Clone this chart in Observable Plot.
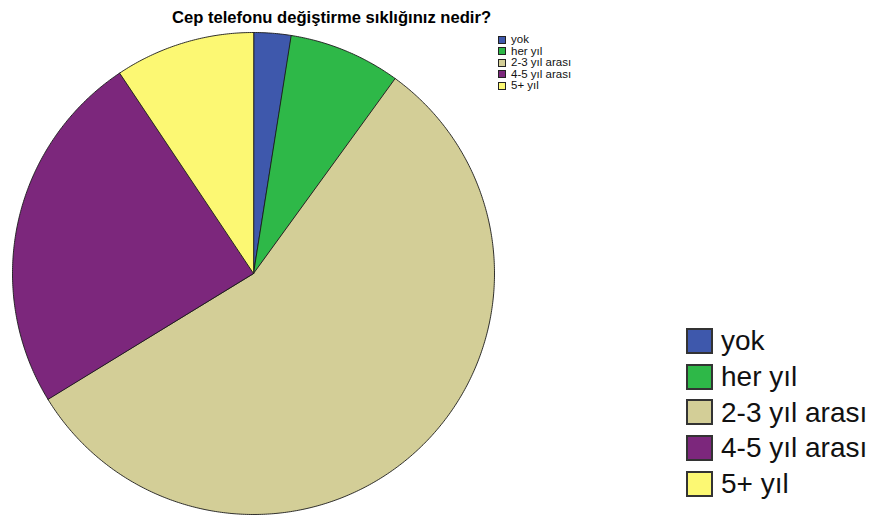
<!DOCTYPE html>
<html>
<head>
<meta charset="utf-8">
<script src="https://cdn.jsdelivr.net/npm/d3@7"></script>
<script src="https://cdn.jsdelivr.net/npm/@observablehq/plot@0.6"></script>
<style>
  body { margin: 0; background: #fff; }
  #wrap { position: relative; width: 877px; height: 516px; font-family: "Liberation Sans", Arial, sans-serif; overflow: hidden; }
  #title { position: absolute; left: 172px; top: 8px; font-size: 16.6px; font-weight: bold; color: #000; white-space: nowrap; }
  .legend { position: absolute; }
  .row { display: flex; align-items: center; white-space: nowrap; }
  .row span { display: block; }
  .small .row { height: 11.5px; font-size: 11.5px; line-height: 11.5px; color: #111; }
  .small .sw { width: 6px; height: 6px; border: 1px solid #222; margin-right: 5px; }
  .big .row { height: 35.7px; font-size: 28px; line-height: 35px; color: #111; }
  .big .sw { width: 23px; height: 22px; border: 2px solid #333; margin-right: 8px; }
</style>
</head>
<body>
<div id="wrap">
  <div id="chart"></div>
  <div id="title">Cep telefonu değiştirme sıklığınız nedir?</div>
  <div class="legend small" id="legSmall" style="left:498px; top:34px;"></div>
  <div class="legend big" id="legBig" style="left:686px; top:323px;"></div>
</div>
<script>
const categories = ["yok", "her yıl", "2-3 yıl arası", "4-5 yıl arası", "5+ yıl"];
const counts = [4, 12, 90, 39, 15];
const colors = ["#3E58AC", "#2EB848", "#D3CE97", "#7C277C", "#FCF873"];

const data = categories.map((c, i) => ({label: c, value: counts[i]}));
const arcs = d3.pie().sort(null).value(d => d.value)(data);

// Build slice outlines (center -> arc -> center) from the pie angles
const pts = [];
for (const a of arcs) {
  const n = Math.max(2, Math.ceil((a.endAngle - a.startAngle) / (Math.PI / 360)));
  pts.push({label: a.data.label, x: 0, y: 0});
  for (let k = 0; k <= n; k++) {
    const t = a.startAngle + (a.endAngle - a.startAngle) * k / n;
    pts.push({label: a.data.label, x: Math.sin(t), y: Math.cos(t)});
  }
}

const chart = Plot.plot({
  width: 877,
  height: 516,
  margin: 0,
  x: {domain: [-1, 1], range: [12, 494], axis: null},
  y: {domain: [-1, 1], range: [514, 32], axis: null},
  color: {domain: categories, range: colors},
  marks: [
    Plot.line(pts, {x: "x", y: "y", z: "label", fill: "label", stroke: "#1a1a1a", strokeWidth: 0.9, curve: "linear-closed", strokeLinejoin: "round"})
  ]
});
document.getElementById("chart").appendChild(chart);

for (const id of ["legSmall", "legBig"]) {
  const el = document.getElementById(id);
  categories.forEach((c, i) => {
    const row = document.createElement("div");
    row.className = "row";
    const sw = document.createElement("div");
    sw.className = "sw";
    sw.style.background = colors[i];
    const tx = document.createElement("span");
    tx.textContent = c;
    row.appendChild(sw);
    row.appendChild(tx);
    el.appendChild(row);
  });
}
</script>
</body>
</html>
